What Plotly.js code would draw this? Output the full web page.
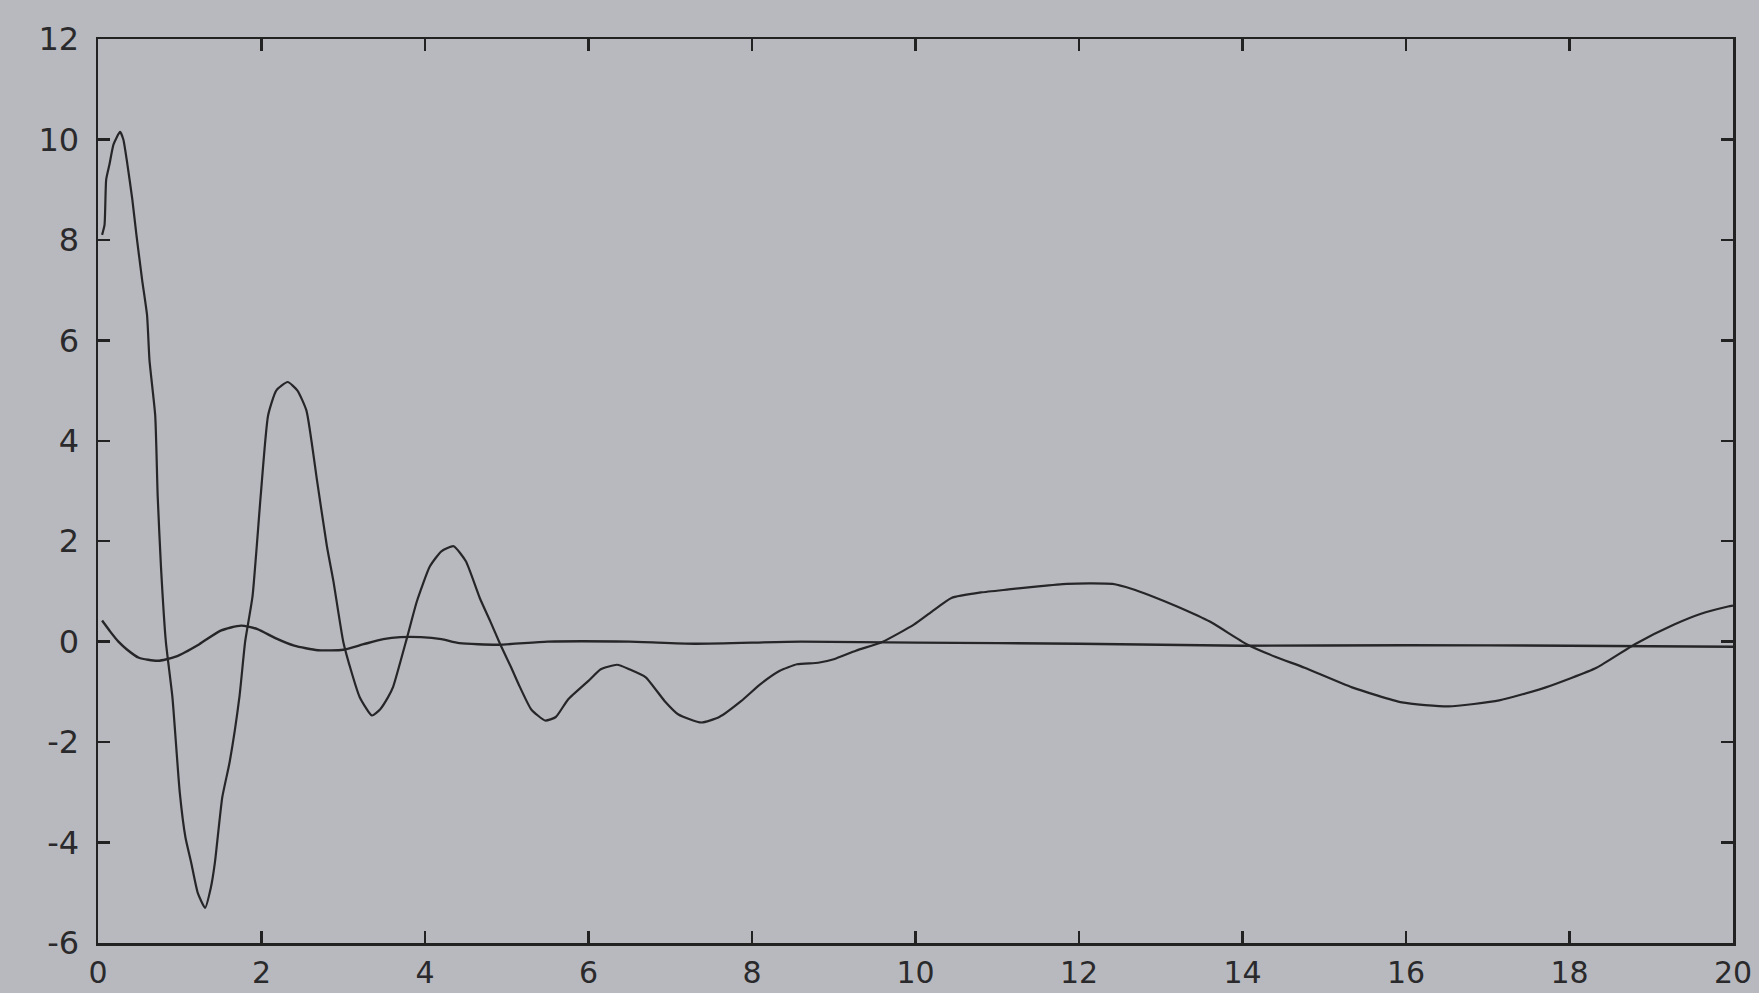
<!DOCTYPE html>
<html>
<head>
<meta charset="utf-8">
<script src="https://cdn.plot.ly/plotly-3.0.1.min.js"></script>
<style>
html,body{margin:0;padding:0;background:#b8b9be;}
#chart{width:1759px;height:993px;}
</style>
</head>
<body>
<div id="chart"></div>
<script>
// Large damped oscillation
const bigX = [0.05,0.08,0.10,0.14,0.19,0.27,0.31,0.36,0.42,0.47,0.54,0.60,0.63,0.70,0.73,0.77,0.83,0.91,1.00,1.07,1.14,1.22,1.31,1.38,1.43,1.52,1.61,1.73,1.80,1.89,1.99,2.08,2.18,2.32,2.44,2.55,2.68,2.80,2.88,3.00,3.10,3.20,3.35,3.45,3.55,3.61,3.78,3.90,4.06,4.20,4.35,4.50,4.67,4.80,4.92,5.05,5.16,5.30,5.47,5.60,5.75,6.00,6.15,6.35,6.50,6.70,6.93,7.10,7.38,7.60,7.87,8.10,8.34,8.55,8.81,9.00,9.27,9.60,9.98,10.20,10.44,10.80,11.14,11.50,11.85,12.15,12.41,12.65,12.87,13.20,13.60,14.05,14.40,14.76,15.34,15.95,16.52,17.14,17.71,18.33,18.80,19.28,19.60,19.94,20.00];
const bigY = [8.1,8.3,9.2,9.5,9.9,10.15,10.0,9.5,8.8,8.1,7.2,6.5,5.6,4.5,2.9,1.5,0.0,-1.1,-3.0,-3.9,-4.4,-5.0,-5.3,-4.9,-4.4,-3.1,-2.4,-1.1,0.0,0.9,2.9,4.5,5.0,5.17,5.0,4.6,3.2,1.9,1.2,0.0,-0.6,-1.1,-1.47,-1.35,-1.1,-0.9,0.08,0.8,1.5,1.8,1.9,1.6,0.87,0.4,-0.05,-0.5,-0.9,-1.35,-1.57,-1.5,-1.15,-0.78,-0.55,-0.46,-0.55,-0.71,-1.18,-1.45,-1.61,-1.5,-1.18,-0.85,-0.58,-0.45,-0.42,-0.35,-0.18,0.0,0.34,0.6,0.87,0.98,1.04,1.1,1.15,1.16,1.15,1.05,0.92,0.7,0.4,-0.05,-0.3,-0.52,-0.91,-1.21,-1.29,-1.17,-0.91,-0.52,-0.05,0.34,0.55,0.7,0.72];

// Small oscillation settling near zero
const smallX = [0.05,0.15,0.25,0.35,0.50,0.73,0.95,1.24,1.50,1.75,1.95,2.17,2.40,2.69,3.00,3.25,3.49,3.70,3.95,4.20,4.42,4.90,5.50,6.50,7.30,8.60,10.0,12.0,14.0,16.0,18.0,20.0];
const smallY = [0.42,0.2,0.0,-0.15,-0.32,-0.38,-0.3,-0.05,0.22,0.32,0.25,0.07,-0.08,-0.17,-0.16,-0.05,0.05,0.09,0.09,0.05,-0.03,-0.06,0.0,0.0,-0.04,0.0,-0.02,-0.04,-0.08,-0.07,-0.08,-0.1];

const xTicks = [0,2,4,6,8,10,12,14,16,18,20];
const yTicks = [-6,-4,-2,0,2,4,6,8,10,12];

const lineColor = '#262628';
const traces = [
  {x: bigX, y: bigY, mode: 'lines', line: {color: lineColor, width: 2.2, shape: 'spline', smoothing: 0.5}, hoverinfo: 'skip'},
  {x: smallX, y: smallY, mode: 'lines', line: {color: lineColor, width: 2.4, shape: 'spline', smoothing: 0.6}, hoverinfo: 'skip'}
];

const axisCommon = {
  showline: true, linecolor: '#222', linewidth: 2.5, mirror: 'ticks',
  ticks: 'inside', ticklen: 12, tickwidth: 2.5, tickcolor: '#222',
  showgrid: false, zeroline: false,
  tickfont: {family: 'DejaVu Sans', size: 32, color: '#2a2a2c'}
};

const layout = {
  width: 1759, height: 993,
  margin: {l: 98, r: 26, t: 39, b: 50},
  paper_bgcolor: '#b8b9be', plot_bgcolor: '#b8b9be',
  showlegend: false,
  xaxis: Object.assign({}, axisCommon, {range: [0, 20], tickmode: 'array', tickvals: xTicks, ticktext: xTicks.map(String), ticklabelstandoff: 1, tickfont: {family: 'DejaVu Sans', size: 30, color: '#2a2a2c'}}),
  yaxis: Object.assign({}, axisCommon, {range: [-6, 12], tickmode: 'array', tickvals: yTicks, ticktext: yTicks.map(String), ticklabelstandoff: 10})
};

Plotly.newPlot('chart', traces, layout, {staticPlot: true, displayModeBar: false});
</script>
</body>
</html>
